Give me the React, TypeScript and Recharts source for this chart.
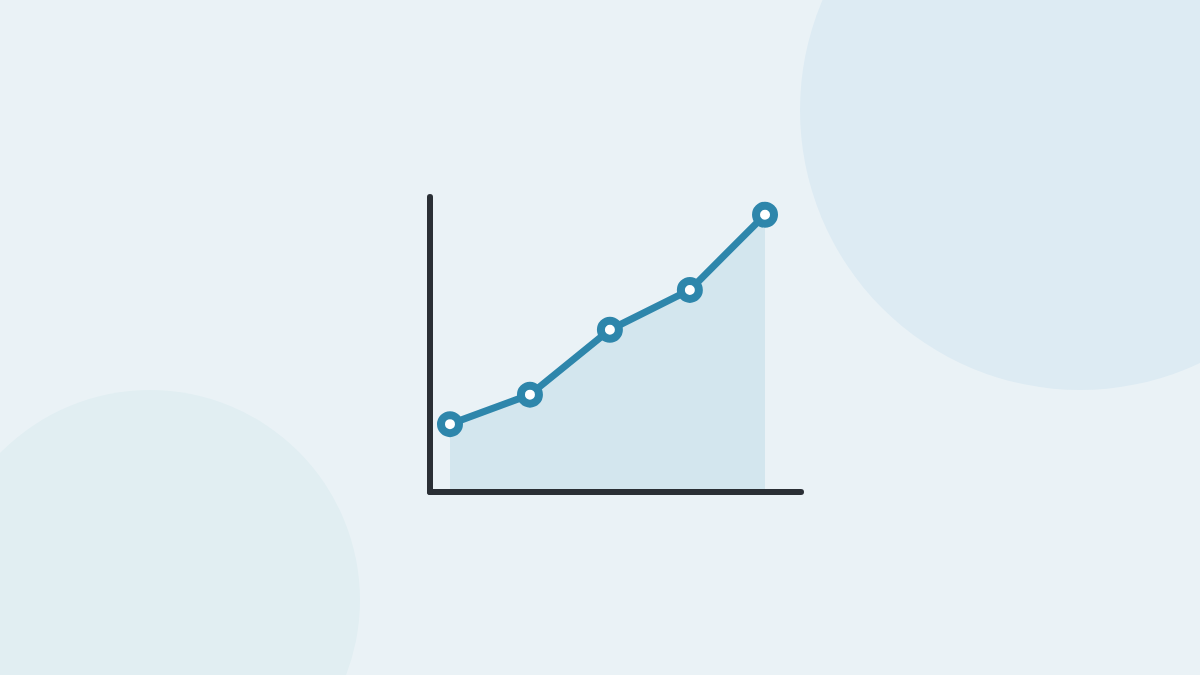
import { ComposedChart, Area, Line, XAxis, YAxis } from "recharts"

// periods along the x axis (the last step is slightly shorter in the picture)
const periods = [1, 2, 3, 4, 4.94]
// growth values, 0–100 scale
const values = [23, 33, 55, 68.5, 94]

const chartData = periods.map((p, i) => ({ x: p, value: values[i] }))

const AXIS = "#2a2f35"
const LINE = "#2e86ab"
const FILL = "#d3e6ee"

export default function App() {
  return (
    <div
      style={{
        position: "absolute",
        left: 0,
        top: 0,
        width: 1200,
        height: 675,
        overflow: "hidden",
        background: "#eaf2f6",
      }}
    >
      {/* background decoration */}
      <div
        style={{
          position: "absolute",
          left: 800,
          top: -170,
          width: 560,
          height: 560,
          borderRadius: "50%",
          background: "#ddebf3",
        }}
      />
      <div
        style={{
          position: "absolute",
          left: -60,
          top: 390,
          width: 420,
          height: 420,
          borderRadius: "50%",
          background: "#e1eef2",
        }}
      />
      <div style={{ position: "absolute", left: 0, top: 0 }}>
        <ComposedChart
          width={1200}
          height={675}
          data={chartData}
          margin={{ top: 197, left: 429, right: 399, bottom: 182 }}
        >
          <XAxis
            dataKey="x"
            type="number"
            domain={[0.75, 5.39]}
            height={1}
            tick={false}
            tickLine={false}
            axisLine={{ stroke: AXIS, strokeWidth: 6, strokeLinecap: "round" }}
          />
          <YAxis
            type="number"
            domain={[0, 100]}
            width={1}
            tick={false}
            tickLine={false}
            axisLine={{ stroke: AXIS, strokeWidth: 6, strokeLinecap: "round" }}
          />
          <Area
            dataKey="value"
            type="linear"
            stroke="none"
            fill={FILL}
            fillOpacity={1}
            isAnimationActive={false}
          />
          <Line
            dataKey="value"
            type="linear"
            stroke={LINE}
            strokeWidth={7}
            strokeLinejoin="round"
            dot={{ r: 9, fill: "#ffffff", stroke: LINE, strokeWidth: 8 }}
            activeDot={false}
            isAnimationActive={false}
          />
        </ComposedChart>
      </div>
    </div>
  )
}
